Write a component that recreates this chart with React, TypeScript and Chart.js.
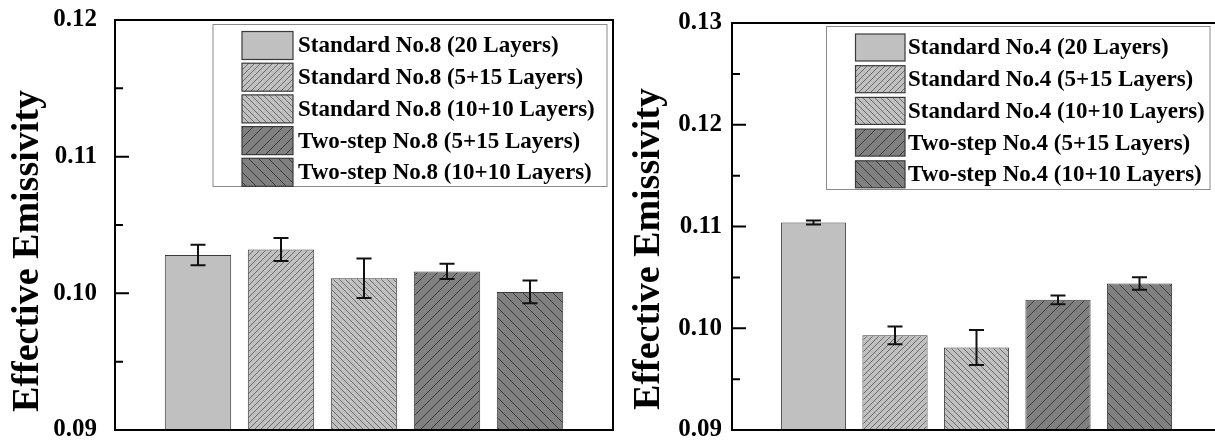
import React, { useEffect, useRef } from "react";
import { Chart, registerables } from "chart.js";

Chart.register(...registerables);

// ---------- data ----------
const yTitle = "Effective Emissivity";

const leftLabels = [
  "Standard No.8 (20 Layers)",
  "Standard No.8 (5+15 Layers)",
  "Standard No.8 (10+10 Layers)",
  "Two-step No.8 (5+15 Layers)",
  "Two-step No.8 (10+10 Layers)",
];
const leftValues = [0.1028, 0.1032, 0.1011, 0.1016, 0.1001];
const leftErrors = [0.00075, 0.00084, 0.00145, 0.00056, 0.00083];
const leftTickValues = [0.09, 0.1, 0.11, 0.12];
const leftTickLabels = ["0.09", "0.10", "0.11", "0.12"];

const rightLabels = [
  "Standard No.4 (20 Layers)",
  "Standard No.4 (5+15 Layers)",
  "Standard No.4 (10+10 Layers)",
  "Two-step No.4 (5+15 Layers)",
  "Two-step No.4 (10+10 Layers)",
];
const rightValues = [0.1104, 0.0993, 0.0981, 0.1028, 0.1044];
const rightErrors = [0.0002, 0.00088, 0.00172, 0.00043, 0.00061];
const rightTickValues = [0.09, 0.1, 0.11, 0.12, 0.13];
const rightTickLabels = ["0.09", "0.10", "0.11", "0.12", "0.13"];

// ---------- styles ----------
const fillColors = ["#c0c0c0", "#c0c0c0", "#c0c0c0", "#808080", "#808080"];
const hatchColors = ["", "#6a6a6a", "#6a6a6a", "#3c3c3c", "#3c3c3c"];
const hatchDirs = ["", "/", "\\", "/", "\\"];
const hatchSpacing = [6, 6, 6, 10, 10];
const SERIF = "'Liberation Serif', 'Times New Roman', serif";

function makePattern(bg: string, line: string, dir: string, s: number): any {
  const c = document.createElement("canvas");
  c.width = s;
  c.height = s;
  const g = c.getContext("2d")!;
  g.fillStyle = bg;
  g.fillRect(0, 0, s, s);
  if (dir) {
    g.strokeStyle = line;
    g.lineWidth = 1;
    g.beginPath();
    if (dir === "/") {
      g.moveTo(-1, s + 1);
      g.lineTo(s + 1, -1);
      g.moveTo(-1, 1);
      g.lineTo(1, -1);
      g.moveTo(s - 1, s + 1);
      g.lineTo(s + 1, s - 1);
    } else {
      g.moveTo(-1, -1);
      g.lineTo(s + 1, s + 1);
      g.moveTo(s - 1, -1);
      g.lineTo(s + 1, 1);
      g.moveTo(-1, s - 1);
      g.lineTo(1, s + 1);
    }
    g.stroke();
  }
  return g.createPattern(c, "repeat");
}

type PanelCfg = {
  labels: string[];
  values: number[];
  errors: number[];
  tickValues: number[];
  tickLabels: string[];
  yMin: number;
  yMax: number;
  canvasLeft: number;
  canvasWidth: number;
  axisW: number;
  padTop: number;
  padRight: number;
  tickPad: number;
  titleX: number;
  titleY: number;
  legend: { x: number; y: number; w: number; h: number; swX: number; swW: number; swH: number; swY0: number; row: number; textX: number };
};

const leftPanel: PanelCfg = {
  labels: leftLabels,
  values: leftValues,
  errors: leftErrors,
  tickValues: leftTickValues,
  tickLabels: leftTickLabels,
  yMin: 0.09,
  yMax: 0.12,
  canvasLeft: 0,
  canvasWidth: 625,
  axisW: 115,
  padTop: 20,
  padRight: 12,
  tickPad: 18,
  titleX: 28,
  titleY: 251,
  legend: { x: 213, y: 24.5, w: 394, h: 162, swX: 242, swW: 51, swH: 28, swY0: 31.5, row: 31.7, textX: 298 },
};

const rightPanel: PanelCfg = {
  labels: rightLabels,
  values: rightValues,
  errors: rightErrors,
  tickValues: rightTickValues,
  tickLabels: rightTickLabels,
  yMin: 0.09,
  yMax: 0.13,
  canvasLeft: 615,
  canvasWidth: 620,
  axisW: 117,
  padTop: 23,
  padRight: 14,
  tickPad: 10,
  titleX: 34,
  titleY: 249,
  legend: { x: 211.5, y: 26.5, w: 383.5, h: 163, swX: 240.5, swW: 49.5, swH: 27, swY0: 34, row: 31.7, textX: 293 },
};

function labelFor(cfg: PanelCfg, v: number): string {
  for (let i = 0; i < cfg.tickValues.length; i++) {
    if (Math.abs(cfg.tickValues[i] - v) < 1e-9) return cfg.tickLabels[i];
  }
  return "";
}

function Panel({ cfg }: { cfg: PanelCfg }) {
  const ref = useRef<HTMLCanvasElement>(null);
  useEffect(() => {
    const patterns = cfg.labels.map((_, i) =>
      makePattern(fillColors[i], hatchColors[i], hatchDirs[i], hatchSpacing[i])
    );
    const datasets: any[] = cfg.labels.map((lab, i) => ({
      label: lab,
      data: [{ x: i + 1, y: cfg.values[i] }],
      errors: [cfg.errors[i]],
      backgroundColor: patterns[i],
      borderColor: "#3a3a3a",
      borderWidth: 1,
      barPercentage: 0.8,
      categoryPercentage: 1,
      grouped: false,
    }));

    const decor = {
      id: "decor",
      afterDatasetsDraw(chart: any) {
        const ctx = chart.ctx;
        const y = chart.scales.y;
        ctx.save();
        ctx.strokeStyle = "#111";
        ctx.lineWidth = 2;
        chart.data.datasets.forEach((ds: any, di: number) => {
          const meta = chart.getDatasetMeta(di);
          meta.data.forEach((el: any, j: number) => {
            const v = ds.data[j].y;
            const e = ds.errors[j];
            const x = el.x;
            const yt = y.getPixelForValue(v + e);
            const yb = y.getPixelForValue(v - e);
            const cw = 7.5;
            ctx.beginPath();
            ctx.moveTo(x, yt);
            ctx.lineTo(x, yb);
            ctx.moveTo(x - cw, yt);
            ctx.lineTo(x + cw, yt);
            ctx.moveTo(x - cw, yb);
            ctx.lineTo(x + cw, yb);
            ctx.stroke();
          });
        });
        ctx.restore();
      },
      afterDraw(chart: any) {
        const ctx = chart.ctx;
        const a = chart.chartArea;
        const y = chart.scales.y;
        ctx.save();
        // frame
        ctx.strokeStyle = "#000";
        ctx.lineWidth = 2;
        ctx.strokeRect(a.left, a.top, a.right - a.left, a.bottom - a.top);
        // inward ticks
        ctx.beginPath();
        y.ticks.forEach((t: any) => {
          const py = y.getPixelForValue(t.value);
          const major = labelFor(cfg, t.value) !== "";
          const len = major ? 14 : 8;
          ctx.moveTo(a.left, py);
          ctx.lineTo(a.left + len, py);
        });
        ctx.stroke();
        // y title
        ctx.save();
        ctx.translate(cfg.titleX, cfg.titleY);
        ctx.rotate(-Math.PI / 2);
        ctx.font = `bold 38px ${SERIF}`;
        ctx.fillStyle = "#000";
        ctx.textAlign = "center";
        ctx.textBaseline = "middle";
        ctx.fillText(yTitle, 0, 0);
        ctx.restore();
        // legend
        const L = cfg.legend;
        ctx.fillStyle = "#fff";
        ctx.fillRect(L.x, L.y, L.w, L.h);
        ctx.strokeStyle = "#8a8a8a";
        ctx.lineWidth = 1;
        ctx.strokeRect(L.x, L.y, L.w, L.h);
        chart.data.datasets.forEach((ds: any, i: number) => {
          const sy = L.swY0 + i * L.row;
          ctx.fillStyle = ds.backgroundColor;
          ctx.fillRect(L.swX, sy, L.swW, L.swH);
          ctx.strokeStyle = "#3a3a3a";
          ctx.lineWidth = 1.2;
          ctx.strokeRect(L.swX, sy, L.swW, L.swH);
          ctx.fillStyle = "#000";
          ctx.font = `bold 23px ${SERIF}`;
          ctx.textAlign = "left";
          ctx.textBaseline = "middle";
          ctx.fillText(ds.label, L.textX, sy + L.swH / 2 + 1);
        });
        ctx.restore();
      },
    };

    const chart = new Chart(ref.current!, {
      type: "bar",
      data: { datasets },
      options: {
        animation: false,
        responsive: false,
        devicePixelRatio: 1,
        layout: { padding: { top: cfg.padTop, right: cfg.padRight, bottom: 11, left: 0 } },
        plugins: { legend: { display: false }, tooltip: { enabled: false } },
        scales: {
          x: {
            type: "linear",
            min: 0,
            max: 6,
            offset: false,
            display: false,
            ticks: { stepSize: 1 },
          },
          y: {
            type: "linear",
            min: cfg.yMin,
            max: cfg.yMax,
            afterFit: (s: any) => {
              s.width = cfg.axisW;
              s.paddingTop = 0;
              s.paddingBottom = 0;
            },
            grid: { display: false, drawTicks: false },
            border: { display: false },
            ticks: {
              stepSize: 0.005,
              autoSkip: false,
              padding: cfg.tickPad,
              color: "#000",
              font: { family: SERIF, weight: "bold", size: 25 },
              callback: (v: any) => labelFor(cfg, Number(v)),
            },
          },
        },
      } as any,
      plugins: [decor],
    });
    return () => chart.destroy();
  }, [cfg]);

  return (
    <canvas
      ref={ref}
      width={cfg.canvasWidth}
      height={441}
      style={{ position: "absolute", left: cfg.canvasLeft, top: 0, width: cfg.canvasWidth, height: 441 }}
    />
  );
}

export default function App() {
  return (
    <div
      style={{
        position: "fixed",
        left: 0,
        top: 0,
        width: 1215,
        height: 441,
        overflow: "hidden",
        background: "#fff",
      }}
    >
      <Panel cfg={leftPanel} />
      <Panel cfg={rightPanel} />
    </div>
  );
}
